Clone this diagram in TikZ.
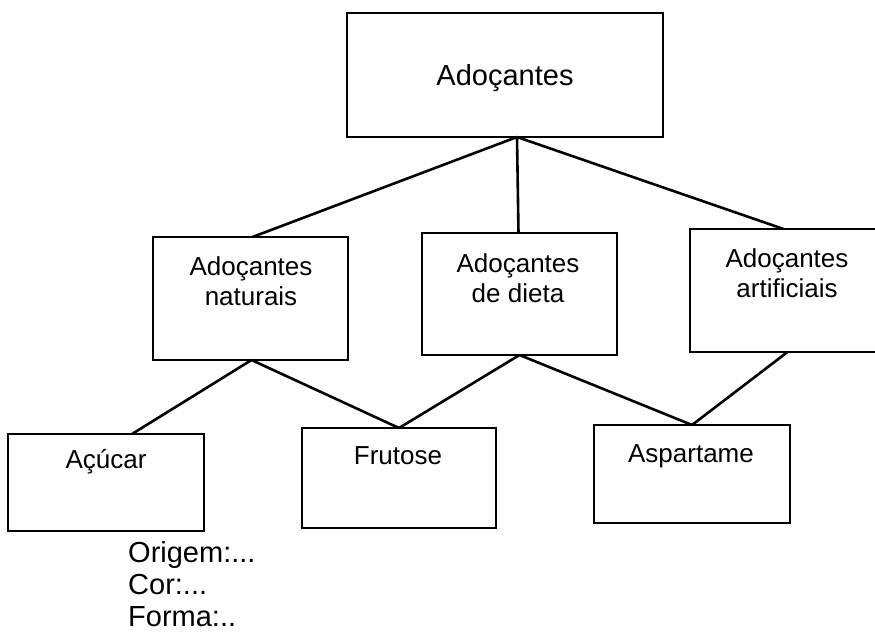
\documentclass[tikz,border=0pt]{standalone}
\usepackage{fontspec}
\setmainfont{Liberation Sans}
\begin{document}
\begin{tikzpicture}[x=1pt,y=-1pt,
  box/.style={draw=black,line width=2.6pt,rectangle,inner sep=0pt,outer sep=0pt},
  link/.style={draw=black,line width=2.6pt},
  big/.style={font=\fontsize{29}{32}\selectfont,anchor=base,inner sep=0pt},
  small/.style={font=\fontsize{26}{30}\selectfont,anchor=base,inner sep=0pt}]
\clip (0,0) rectangle (875,635);

% boxes
\node[box,minimum width=316pt,minimum height=124pt] (top)  at (505,75) {};
\node[box,minimum width=195pt,minimum height=123pt] (nat)  at (250.5,298.5) {};
\node[box,minimum width=195pt,minimum height=122pt] (diet) at (519.5,294) {};
\node[box,minimum width=195pt,minimum height=123pt] (art)  at (787.5,290.5) {};
\node[box,minimum width=196pt,minimum height=97pt]  (acu)  at (106,482.5) {};
\node[box,minimum width=194pt,minimum height=100pt] (fru)  at (399,478) {};
\node[box,minimum width=196pt,minimum height=98pt]  (asp)  at (692,474) {};

% labels
\node[big]   (ttop)  at (505,85)  {Adoçantes};
\node[small] (tnat)  at (251,275) {\begin{tabular}[t]{@{}c@{}}Adoçantes\\naturais\end{tabular}};
\node[small] (tdiet) at (518,272) {\begin{tabular}[t]{@{}c@{}}Adoçantes\\de dieta\end{tabular}};
\node[small] (tart)  at (787,267) {\begin{tabular}[t]{@{}c@{}}Adoçantes\\artificiais\end{tabular}};
\node[small] (tacu)  at (106,468) {Açúcar};
\node[small] (tfru)  at (398,464) {Frutose};
\node[small] (tasp)  at (691,462) {Aspartame};
\node[big,anchor=north west,align=left] (list) at (128,541)
  {Origem:...\\Cor:...\\Forma:..};

% connectors
\draw[link] ([xshift=12pt]top.south) -- ([xshift=2pt]nat.north);
\draw[link] ([xshift=12pt]top.south) -- ([xshift=-1pt]diet.north);
\draw[link] ([xshift=12pt]top.south) -- ([xshift=-4pt]art.north);
\draw[link] ([xshift=1pt]nat.south) -- ([xshift=26pt]acu.north);
\draw[link] ([xshift=1pt]nat.south) -- (fru.north);
\draw[link] (diet.south) -- (fru.north);
\draw[link] (diet.south) -- (asp.north);
\draw[link] (art.south) -- (asp.north);
\end{tikzpicture}
\end{document}
